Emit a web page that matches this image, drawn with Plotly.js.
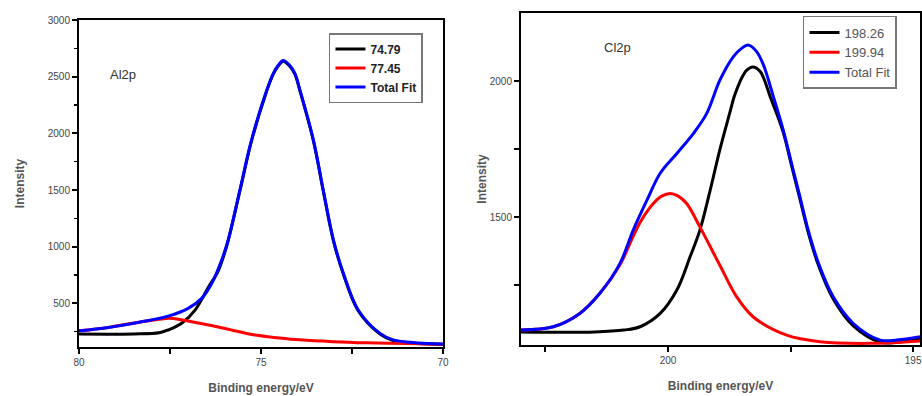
<!DOCTYPE html>
<html><head><meta charset="utf-8">
<script src="https://cdn.plot.ly/plotly-3.0.1.min.js"></script>
<style>html,body{margin:0;padding:0;background:#fff}#chart{width:922px;height:396px}</style>
</head><body><div id="chart"></div>
<script>
// ---- Al2p panel ----
const alTotalX = [80, 79.19, 78.28, 77.55, 77.0, 76.63, 76.35, 76.08, 75.9, 75.58, 75.26, 74.84, 74.66, 74.52, 74.39, 74.22, 74.07, 73.93, 73.56, 73.29, 73.01, 72.74, 72.33, 71.73, 71.37, 70.7, 70];
const alTotalY = [258, 288, 338, 388, 456, 544, 677, 882, 1059, 1500, 1941, 2382, 2530, 2603, 2642, 2603, 2530, 2382, 1941, 1500, 1059, 768, 442, 235, 178, 151, 142];
const alPeak1X = [80, 78.5, 77.8, 77.55, 77.18, 76.81, 76.45, 76.17, 75.94, 75.58, 75.26, 74.84, 74.66, 74.52, 74.39, 74.22, 74.07, 73.93, 73.56, 73.29, 73.01, 72.74, 72.33, 71.73, 71.37, 70.7, 70];
const alPeak1Y = [229, 230, 240, 265, 324, 441, 640, 790, 1010, 1490, 1933, 2376, 2525, 2598, 2637, 2598, 2525, 2376, 1935, 1494, 1053, 762, 436, 230, 172, 146, 138];
const alPeak2X = [80, 79.19, 78.28, 77.8, 77.5, 77.2, 76.9, 75.99, 75.16, 74.5, 73.93, 73.02, 72.1, 71.0, 70];
const alPeak2Y = [258, 288, 338, 360, 368, 355, 338, 279, 220, 195, 178, 162, 152, 145, 140];
const alNames = ['74.79', '77.45', 'Total Fit'];

// ---- Cl2p panel ----
const clTotalX = [203.02, 202.34, 201.8, 201.39, 200.98, 200.71, 200.43, 200.16, 199.82, 199.48, 199.21, 198.94, 198.67, 198.5, 198.36, 198.2, 198.06, 197.85, 197.65, 197.48, 197.31, 197.14, 196.93, 196.63, 196.22, 195.67, 195.33, 194.86];
const clTotalY = [1085, 1097, 1146, 1220, 1330, 1452, 1562, 1661, 1734, 1808, 1881, 2004, 2089, 2120, 2132, 2110, 2062, 1942, 1820, 1697, 1575, 1452, 1330, 1207, 1109, 1048, 1048, 1060];
const clPeak1X = [203.02, 201.5, 200.9, 200.57, 200.16, 199.82, 199.55, 199.35, 199.14, 198.94, 198.73, 198.65, 198.53, 198.47, 198.4, 198.27, 198.12, 197.9, 197.65, 197.48, 197.31, 197.14, 196.93, 196.63, 196.22, 195.67, 195.33, 194.86];
const clPeak1Y = [1078, 1078, 1085, 1097, 1146, 1232, 1354, 1452, 1599, 1750, 1890, 1943, 1999, 2020, 2039, 2052, 2035, 1935, 1812, 1689, 1567, 1444, 1322, 1199, 1100, 1040, 1040, 1052];
const clPeak2X = [203.02, 202.34, 201.8, 201.39, 200.98, 200.71, 200.57, 200.43, 200.3, 200.13, 199.96, 199.8, 199.62, 199.35, 198.94, 198.6, 198.26, 197.58, 196.9, 195.88, 194.86];
const clPeak2Y = [1085, 1097, 1146, 1220, 1325, 1430, 1480, 1520, 1550, 1577, 1587, 1578, 1550, 1464, 1322, 1207, 1133, 1066, 1042, 1036, 1045];
const clNames = ['198.26', '199.94', 'Total Fit'];

const colors = ['#000000', '#ff0000', '#0000ff'];
const FONT = 'Arial, "Liberation Sans", sans-serif';

function tr(x, y, name, color, xa, ya, legend) {
  return {x: x, y: y, name: name, type: 'scatter', mode: 'lines',
    line: {color: color, width: 3, shape: 'spline', smoothing: 1},
    xaxis: xa, yaxis: ya, legend: legend, hoverinfo: 'skip'};
}

const data = [
  tr(alPeak1X, alPeak1Y, alNames[0], colors[0], 'x', 'y', 'legend'),
  tr(alPeak2X, alPeak2Y, alNames[1], colors[1], 'x', 'y', 'legend'),
  tr(alTotalX, alTotalY, alNames[2], colors[2], 'x', 'y', 'legend'),
  tr(clPeak1X, clPeak1Y, clNames[0], colors[0], 'x2', 'y2', 'legend2'),
  tr(clPeak2X, clPeak2Y, clNames[1], colors[1], 'x2', 'y2', 'legend2'),
  tr(clTotalX, clTotalY, clNames[2], colors[2], 'x2', 'y2', 'legend2')
];

const tickFont = {family: FONT, size: 10, color: '#444'};
const titleFont = {family: FONT, size: 12, color: '#555', weight: 'bold'};
function ax(extra) {
  return Object.assign({
    showline: true, linecolor: '#000', linewidth: 2, mirror: true,
    ticks: 'outside', ticklen: 5, tickwidth: 2, tickcolor: '#000',
    showgrid: false, zeroline: false, tickfont: tickFont, automargin: false,
    fixedrange: true
  }, extra);
}

const layout = {
  width: 922, height: 396,
  margin: {l: 10, r: 2, t: 10, b: 40},
  paper_bgcolor: '#fff', plot_bgcolor: '#fff',
  font: {family: FONT},
  xaxis: ax({domain: [0.0758, 0.4758], range: [80, 70], anchor: 'y',
    tickvals: [80, 75, 70], minor: {tickvals: [77.5, 72.5], ticks: 'outside', ticklen: 5, tickwidth: 2, tickcolor: '#000'},
    title: {text: 'Binding energy/eV', font: titleFont, standoff: 17}}),
  yaxis: ax({domain: [0.026, 0.971], range: [115, 3000], anchor: 'x',
    dtick: 500, tick0: 0, minor: {dtick: 250, ticks: 'outside', ticklen: 3, tickwidth: 1.5, tickcolor: '#000'},
    title: {text: 'Intensity', font: titleFont, standoff: 21}}),
  xaxis2: ax({domain: [0.5615, 1.0], range: [203.0, 194.86], anchor: 'y2',
    tickvals: [200, 195], minor: {tickvals: [202.5, 197.5], ticks: 'outside', ticklen: 5, tickwidth: 2, tickcolor: '#000'},
    title: {text: 'Binding energy/eV', font: titleFont, standoff: 17}}),
  yaxis2: ax({domain: [0.0318, 0.9913], range: [1030, 2250], anchor: 'x2',
    tickvals: [1500, 2000], minor: {tickvals: [1250, 1750], ticks: 'outside', ticklen: 5, tickwidth: 2, tickcolor: '#000'},
    title: {text: 'Intensity', font: titleFont, standoff: 1}}),
  legend: {x: 0.3505, y: 0.9335, xanchor: 'left', yanchor: 'top',
    bgcolor: '#fff', bordercolor: '#777', borderwidth: 1.5,
    font: {family: FONT, size: 12, color: '#222', weight: 'bold'},
    tracegroupgap: 0, itemwidth: 30},
  legend2: {x: 0.8714, y: 0.9827, xanchor: 'left', yanchor: 'top',
    bgcolor: '#fff', bordercolor: '#777', borderwidth: 1.5,
    font: {family: FONT, size: 13, color: '#555'},
    tracegroupgap: 0, itemwidth: 30},
  showlegend: true,
  annotations: [
    {text: 'Al2p', xref: 'paper', yref: 'paper', x: 0.1247, y: 0.815, xanchor: 'center', yanchor: 'middle', showarrow: false,
      font: {family: FONT, size: 13, color: '#333'}},
    {text: 'Cl2p', xref: 'paper', yref: 'paper', x: 0.668, y: 0.893, xanchor: 'center', yanchor: 'middle', showarrow: false,
      font: {family: FONT, size: 13, color: '#333'}}
  ]
};

Plotly.newPlot('chart', data, layout, {staticPlot: true, displayModeBar: false});
</script>
</body></html>
